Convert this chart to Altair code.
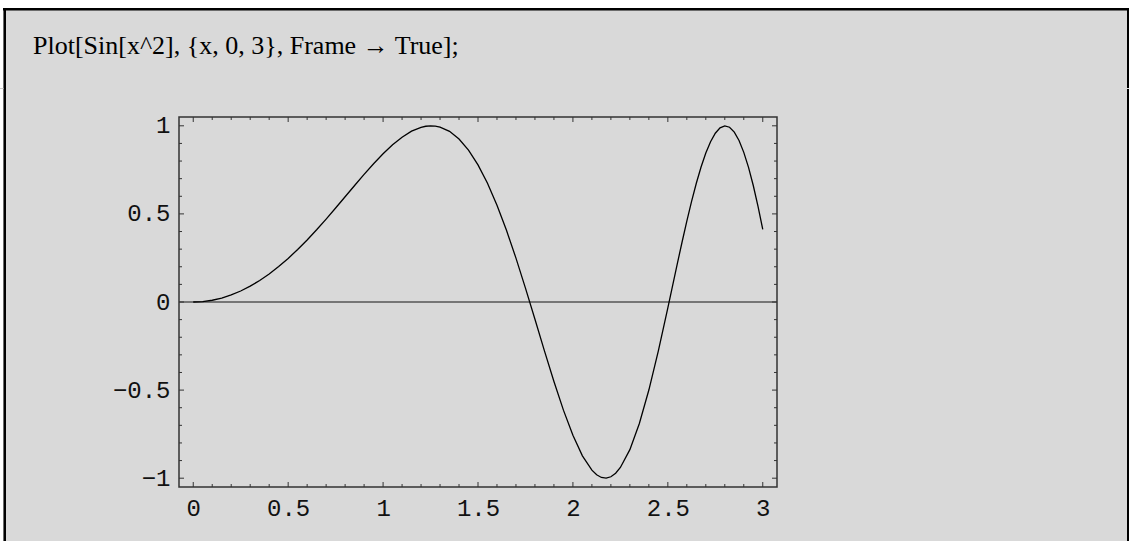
import altair as alt
import pandas as pd

# Sampled curve: x and Sin[x^2]
xs = [0.00, 0.05, 0.10, 0.15, 0.20, 0.25, 0.30, 0.35, 0.40, 0.45,
      0.50, 0.55, 0.60, 0.65, 0.70, 0.75, 0.80, 0.85, 0.90, 0.95,
      1.00, 1.05, 1.10, 1.15, 1.20, 1.225, 1.25, 1.275, 1.30, 1.35, 1.40, 1.45,
      1.50, 1.55, 1.60, 1.65, 1.70, 1.75, 1.80, 1.85, 1.90, 1.95,
      2.00, 2.05, 2.10, 2.125, 2.15, 2.175, 2.20, 2.225, 2.25, 2.30, 2.35, 2.40, 2.45,
      2.50, 2.55, 2.575, 2.60, 2.625, 2.65, 2.675, 2.70, 2.725, 2.75, 2.775,
      2.80, 2.825, 2.85, 2.875, 2.90, 2.925, 2.95, 2.975, 3.00]
ys = [0.0000, 0.0025, 0.0100, 0.0225, 0.0400, 0.0625, 0.0899, 0.1222, 0.1593, 0.2011,
      0.2474, 0.2979, 0.3523, 0.4101, 0.4706, 0.5333, 0.5972, 0.6612, 0.7243, 0.7847,
      0.8415, 0.8923, 0.9356, 0.9694, 0.9915, 0.9975, 1.0000, 0.9985, 0.9929, 0.9685, 0.9249, 0.8622,
      0.7781, 0.6736, 0.5494, 0.4069, 0.2489, 0.0790, -0.0982, -0.2772, -0.4515, -0.6138,
      -0.7568, -0.8730, -0.9546, -0.9807, -0.9960, -0.9998, -0.9919, -0.9718, -0.9393, -0.8380, -0.6895, -0.4997, -0.2770,
      -0.0332, 0.2176, 0.3405, 0.4590, 0.5708, 0.6738, 0.7659, 0.8451, 0.9097, 0.9578, 0.9883,
      0.9999, 0.9920, 0.9642, 0.9165, 0.8493, 0.7638, 0.6611, 0.5431, 0.4121]

# Frame tick positions
x_major = [0, 0.5, 1, 1.5, 2, 2.5, 3]
x_minor = [0.1, 0.2, 0.3, 0.4, 0.6, 0.7, 0.8, 0.9, 1.1, 1.2, 1.3, 1.4,
           1.6, 1.7, 1.8, 1.9, 2.1, 2.2, 2.3, 2.4, 2.6, 2.7, 2.8, 2.9]
y_major = [-1, -0.5, 0, 0.5, 1]
y_minor = [-0.9, -0.8, -0.7, -0.6, -0.4, -0.3, -0.2, -0.1,
           0.1, 0.2, 0.3, 0.4, 0.6, 0.7, 0.8, 0.9]

input_text = "Plot[Sin[x^2], {x, 0, 3}, Frame \u2192 True];"

W, H = 598, 370
LEFT, TOP = 179, 117
PAGE_W, PAGE_H = 1129, 541

xscale = alt.Scale(domain=[-0.075, 3.075], nice=False, zero=False)
yscale = alt.Scale(domain=[-1.05, 1.05], nice=False, zero=False)
mono = "Liberation Mono"
xaxis = alt.Axis(values=x_major, title=None, domain=False, ticks=False, tickSize=0,
                 grid=False, labelFont=mono, labelFontSize=24, labelColor="#111",
                 labelPadding=9, labelFlush=False, labelOverlap=False, format="~g", zindex=1)
yaxis = alt.Axis(values=y_major, title=None, domain=False, ticks=False, tickSize=0,
                 grid=False, labelFont=mono, labelFontSize=24, labelColor="#111",
                 labelPadding=9, labelFlush=False, labelOverlap=False, format="~g", zindex=1)

one = pd.DataFrame({"a": [0]})


def px(v):
    # page pixel column -> plot-relative
    return alt.value(v - LEFT)


def py(v):
    # page pixel row -> plot-relative
    return alt.value(v - TOP)


# notebook cell: gray panel with black bracket lines
panel = alt.Chart(one).mark_rect(fill="#d9d9d9", strokeWidth=0).encode(
    x=px(3), x2=px(PAGE_W), y=py(8), y2=py(PAGE_H))
border_top = alt.Chart(one).mark_rect(fill="#000", strokeWidth=0).encode(
    x=px(3), x2=px(PAGE_W), y=py(8), y2=py(10.5))
border_left = alt.Chart(one).mark_rect(fill="#000", strokeWidth=0).encode(
    x=px(3.5), x2=px(6), y=py(8), y2=py(PAGE_H))
border_right = alt.Chart(one).mark_rect(fill="#000", strokeWidth=0).encode(
    x=px(1127), x2=px(PAGE_W), y=py(8), y2=py(PAGE_H))
# faint divider between the input and output cells
divider_left = alt.Chart(one).mark_rect(fill="#c8c8c8", strokeWidth=0).encode(
    x=px(0), x2=px(3.5), y=py(88), y2=py(89))
divider_right = alt.Chart(one).mark_rect(fill="#d9d9d9", strokeWidth=0).encode(
    x=px(1127), x2=px(PAGE_W), y=py(88), y2=py(89))

label = alt.Chart(one).mark_text(
    text=input_text, font="Liberation Serif", fontSize=26, color="#000",
    align="left", baseline="alphabetic").encode(x=px(33), y=py(54))

zero_line = alt.Chart(pd.DataFrame({"y": [0.0]})).mark_rule(
    color="#555", strokeWidth=1.6).encode(y=alt.Y("y:Q", scale=yscale, axis=yaxis))

curve = alt.Chart(pd.DataFrame({"x": xs, "y": ys})).mark_line(
    color="#000", strokeWidth=1.3, interpolate="linear").encode(
    x=alt.X("x:Q", scale=xscale, axis=xaxis),
    y=alt.Y("y:Q", scale=yscale, axis=yaxis))


def xticks(vals, length):
    d = pd.DataFrame({"x": vals})
    xe = alt.X("x:Q", scale=xscale, axis=xaxis)
    bottom = alt.Chart(d).mark_rule(color="#333", strokeWidth=1).encode(
        x=xe, y=alt.value(H), y2=alt.value(H - length))
    top = alt.Chart(d).mark_rule(color="#333", strokeWidth=1).encode(
        x=xe, y=alt.value(0), y2=alt.value(length))
    return [bottom, top]


def yticks(vals, length):
    d = pd.DataFrame({"y": vals})
    ye = alt.Y("y:Q", scale=yscale, axis=yaxis)
    left = alt.Chart(d).mark_rule(color="#333", strokeWidth=1).encode(
        y=ye, x=alt.value(0), x2=alt.value(length))
    right = alt.Chart(d).mark_rule(color="#333", strokeWidth=1).encode(
        y=ye, x=alt.value(W), x2=alt.value(W - length))
    return [left, right]


frame = alt.Chart(one).mark_rect(fillOpacity=0, stroke="#333", strokeWidth=1.5).encode(
    x=alt.value(0), x2=alt.value(W), y=alt.value(0), y2=alt.value(H))

layers = [panel, border_top, border_left, border_right, divider_left, divider_right,
          label, zero_line, curve]
layers += xticks(x_major, 5) + xticks(x_minor, 3) + yticks(y_major, 5) + yticks(y_minor, 3)
layers.append(frame)

chart = alt.layer(*layers).properties(
    width=W, height=H,
    autosize=alt.AutoSizeParams(type="none"),
    padding={"left": LEFT, "top": TOP, "right": PAGE_W - LEFT - W, "bottom": PAGE_H - TOP - H},
    background="white",
).configure_view(stroke=None)

chart.save("out.html", embed_options={"renderer": "svg", "actions": False})
